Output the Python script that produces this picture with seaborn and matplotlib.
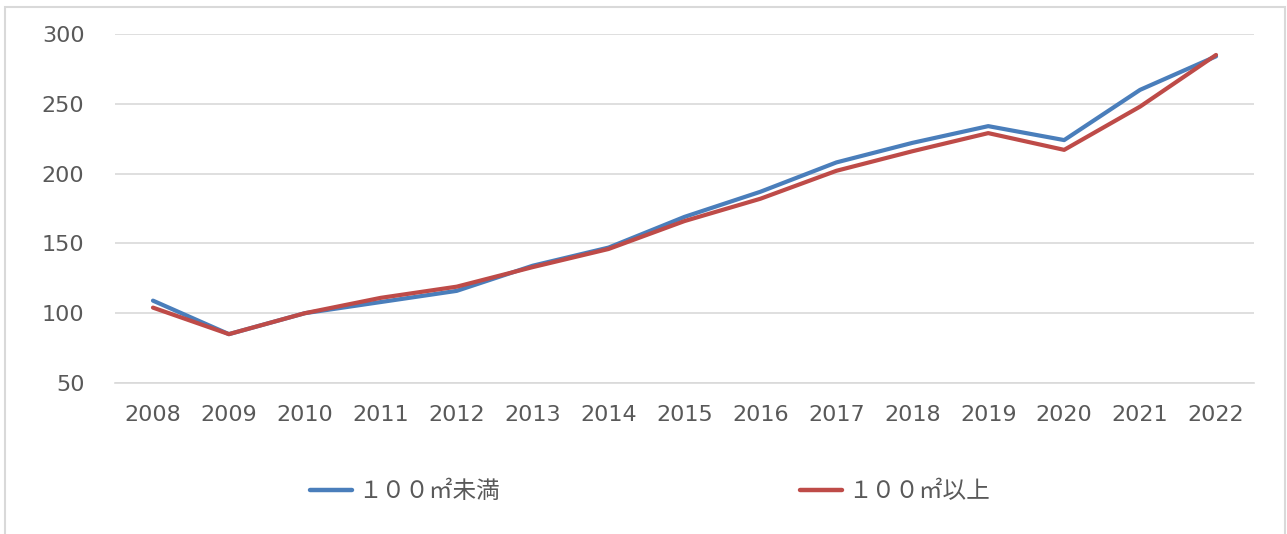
import pandas as pd
import matplotlib.pyplot as plt
from matplotlib.patches import Rectangle
import seaborn as sns

# Data
years = list(range(2008, 2023))
under_100 = [109, 85, 100, 108, 116, 134, 147, 169, 187, 208, 222, 234, 224, 260, 284]
over_100 = [104, 85, 100, 111, 119, 133, 146, 166, 182, 202, 216, 229, 217, 248, 285]
series_names = ["１００㎡未満", "１００㎡以上"]
colors = ["#4A7EBB", "#BE4B48"]

df = pd.DataFrame({
    "year": years * 2,
    "value": under_100 + over_100,
    "series": [series_names[0]] * len(years) + [series_names[1]] * len(years),
})

sns.set_style("white")
plt.rcParams["font.family"] = ["DejaVu Sans", "Noto Sans CJK JP"]

fig = plt.figure(figsize=(12.87, 5.34), dpi=100)
ax = fig.add_axes([115 / 1287, 1 - 383 / 534, (1254 - 115) / 1287, (383 - 34) / 534])

sns.lineplot(data=df, x="year", y="value", hue="series", palette=colors,
             linewidth=3, ax=ax, legend=False)

ax.set_xlim(2007.5, 2022.5)
ax.set_ylim(50, 300)
ax.set_xticks(years)
ax.set_xticklabels([str(y) for y in years])
ax.set_yticks(range(50, 301, 50))
ax.yaxis.grid(True, color="#d9d9d9", linewidth=1.2)
ax.set_xlabel("")
ax.set_ylabel("")
for s in ["top", "right", "left"]:
    ax.spines[s].set_visible(False)
ax.spines["bottom"].set_color("#d9d9d9")
ax.spines["bottom"].set_linewidth(1.2)
ax.tick_params(axis="both", length=0, labelsize=16, colors="#595959")
ax.tick_params(axis="x", pad=16)
ax.tick_params(axis="y", pad=22)

# Legend below the plot
handles = [plt.Line2D([], [], color=c, linewidth=3.2) for c in colors]
leg = fig.legend(handles, series_names, loc="center", ncol=2,
                 bbox_to_anchor=(0.505, 1 - 492 / 534), frameon=False,
                 handlelength=1.8, handletextpad=0.25, columnspacing=12.7,
                 prop={"family": ["Noto Sans CJK JP", "DejaVu Sans"], "size": 17})
for t in leg.get_texts():
    t.set_color("#595959")

# Chart area border
fig.add_artist(Rectangle((5 / 1287, -0.1), (1285 - 5) / 1287, 1.1 - 7 / 534,
                         transform=fig.transFigure, fill=False,
                         edgecolor="#d9d9d9", linewidth=1.5))

fig.savefig("out.png", dpi=100)
